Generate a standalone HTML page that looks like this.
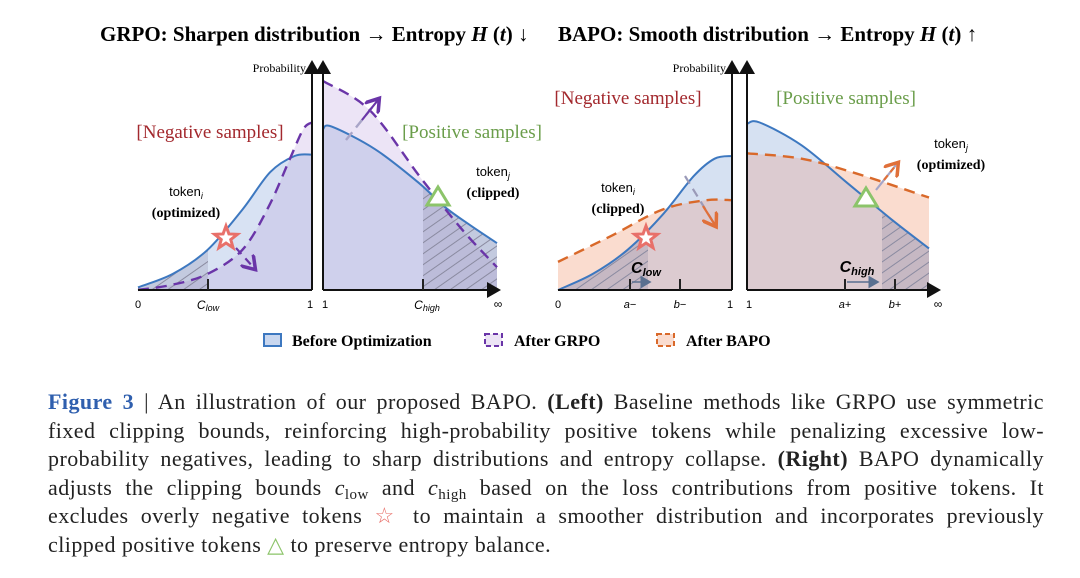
<!DOCTYPE html>
<html><head><meta charset="utf-8">
<style>
body{margin:0;background:#fff;width:1080px;height:578px;overflow:hidden;font-family:"Liberation Serif",serif;}
#fig{position:absolute;left:0;top:0}
.cap{position:absolute;left:48px;width:996px;font-size:22px;letter-spacing:0.45px;color:#222;line-height:28.5px;top:388px}
.ln{display:block;text-align:justify;text-align-last:justify;white-space:nowrap;height:28.5px}
.ln.last{text-align-last:left}
.blue{color:#2f5fae}
sub{font-size:15px;vertical-align:-4px;line-height:0}
</style></head><body>
<svg id="fig" width="1080" height="380">
<defs>
<pattern id="hatch" width="9" height="9" patternUnits="userSpaceOnUse" patternTransform="rotate(-35)">
<rect width="9" height="9" fill="rgba(120,120,150,0.22)"/><line x1="0" y1="0" x2="9" y2="0" stroke="#8a8aa0" stroke-width="2"/></pattern>
<marker id="arP" markerWidth="8" markerHeight="8" refX="5" refY="4" orient="auto"><path d="M0,0 L6,4 L0,8" fill="none" stroke="#6a35a8" stroke-width="1.6"/></marker>
<marker id="arO" markerWidth="8" markerHeight="8" refX="5" refY="4" orient="auto"><path d="M0,0 L6,4 L0,8" fill="none" stroke="#e0703a" stroke-width="1.6"/></marker>
<marker id="arA" markerWidth="8" markerHeight="8" refX="6" refY="4" orient="auto"><path d="M0,0 L7,4 L0,8 z" fill="#111"/></marker>
<marker id="arG" markerWidth="8" markerHeight="8" refX="6" refY="4" orient="auto"><path d="M0,0 L7,4 L0,8 z" fill="#5a7090"/></marker>
</defs>
<g id="plot"></g>
<text x="100" y="41" font-size="21" font-weight="bold" font-family="Liberation Serif">GRPO: Sharpen distribution → Entropy <tspan font-style="italic">H</tspan> (<tspan font-style="italic">t</tspan>) ↓</text>
<text x="558" y="41" font-size="21" font-weight="bold" font-family="Liberation Serif">BAPO: Smooth distribution → Entropy <tspan font-style="italic">H</tspan> (<tspan font-style="italic">t</tspan>) ↑</text>
</svg>
<div class="cap">
<span class="ln"><b class="blue">Figure 3</b> | An illustration of our proposed BAPO. <b>(Left)</b> Baseline methods like GRPO use symmetric</span>
<span class="ln">fixed clipping bounds, reinforcing high-probability positive tokens while penalizing excessive low-</span>
<span class="ln">probability negatives, leading to sharp distributions and entropy collapse. <b>(Right)</b> BAPO dynamically</span>
<span class="ln">adjusts the clipping bounds <i>c</i><sub>low</sub> and <i>c</i><sub>high</sub> based on the loss contributions from positive tokens. It</span>
<span class="ln">excludes overly negative tokens <span style="color:#e8706a">☆</span> to maintain a smoother distribution and incorporates previously</span>
<span class="ln last">clipped positive tokens <span style="color:#8cc46a">△</span> to preserve entropy balance.</span>
</div>
<script>
// curve data: [x fraction along axis, probability height]
const gNegBlueX=[0,0.2,0.4,0.6,0.76,0.9,1];
const gNegBlueY=[0.02,0.12,0.3,0.6,0.88,1.0,1.01];
const gNegPurX=[0,0.2,0.4,0.6,0.75,0.87,0.95,1];
const gNegPurY=[0,0.04,0.12,0.3,0.62,0.97,1.2,1.25];
const gPosBlueX=[0,0.05,0.3,0.55,0.7,0.85,1];
const gPosBlueY=[1.2,1.22,1.05,0.8,0.62,0.48,0.35];
const gPosPurX=[0,0.27,0.56,0.8,1];
const gPosPurY=[1.56,1.34,0.84,0.45,0.17];
const bNegBlueX=[0,0.2,0.4,0.6,0.78,0.9,1];
const bNegBlueY=[0,0.12,0.3,0.56,0.85,0.98,1.0];
const bNegOrX=[0,0.3,0.6,0.85,1];
const bNegOrY=[0.21,0.4,0.6,0.67,0.67];
const bPosBlueX=[0,0.07,0.3,0.55,0.8,1];
const bPosBlueY=[1.24,1.25,1.08,0.8,0.52,0.31];
const bPosOrX=[0,0.3,0.6,1];
const bPosOrY=[1.02,0.98,0.87,0.69];
const NS="http://www.w3.org/2000/svg";
const root=document.getElementById('plot');
const Y0=290, H=134;
function el(t,a,p){const e=document.createElementNS(NS,t);for(const k in a)e.setAttribute(k,a[k]);(p||root).appendChild(e);return e;}
function pts(x0,x1,xs,ys){return xs.map((f,i)=>[x0+f*(x1-x0),Y0-ys[i]*H]);}
function smooth(p){let d=`M${p[0][0]},${p[0][1]}`;for(let i=0;i<p.length-1;i++){const a=p[i-1]||p[i],b=p[i],c=p[i+1],e=p[i+2]||c;d+=` C${b[0]+(c[0]-a[0])/6},${b[1]+(c[1]-a[1])/6} ${c[0]-(e[0]-b[0])/6},${c[1]-(e[1]-b[1])/6} ${c[0]},${c[1]}`;}return d;}
function area(p){return smooth(p)+` L${p[p.length-1][0]},${Y0} L${p[0][0]},${Y0} Z`;}
function panel(x0,x1,bx,by,ox,oy,fillB,fillO,fillBoth,strokeO,name,hx0,hx1){
 const pb=pts(x0,x1,bx,by),po=pts(x0,x1,ox,oy);
 let a=el('path',{d:area(po),fill:fillO});
 
 a=el('path',{d:area(pb),fill:fillB});
 
 const oid='o'+name;const oc=el('clipPath',{id:oid});el('path',{d:area(po)},oc);
 a=el('path',{d:area(pb),fill:fillBoth,'clip-path':`url(#${oid})`});
 
 const cid='c'+name;const cp=el('clipPath',{id:cid});el('path',{d:area(pb)},cp);
 a=el('rect',{x:hx0,y:40,width:hx1-hx0,height:Y0-40,fill:'url(#hatch)','clip-path':`url(#${cid})`});
 
 a=el('path',{d:smooth(pb),fill:'none',stroke:'#3d78c0','stroke-width':2});
 
 a=el('path',{d:smooth(po),fill:'none',stroke:strokeO,'stroke-width':2.4,'stroke-dasharray':'11 7'});
 
}
panel(138,312,gNegBlueX,gNegBlueY,gNegPurX,gNegPurY,'#d8e2f3','#ece4f6','#cfd0ec','#6a35a8','grpo-neg',138,208);
panel(323,497,gPosBlueX,gPosBlueY,gPosPurX,gPosPurY,'#d8e2f3','#ece4f6','#cfd0ec','#6a35a8','grpo-pos',423,497);
panel(558,732,bNegBlueX,bNegBlueY,bNegOrX,bNegOrY,'#d6e1f2','#fadccf','#dccbd0','#d9692a','bapo-neg',558,648);
panel(747,929,bPosBlueX,bPosBlueY,bPosOrX,bPosOrY,'#d6e1f2','#fadccf','#dccbd0','#d9692a','bapo-pos',882,929);
function T(x,y,s,opt){const t=el('text',Object.assign({x:x,y:y,'font-family':'Liberation Serif','font-size':13},opt||{}));t.innerHTML=s;return t;}
function axes(xl0,xl1,xr0,xr1,name){
 let a=el('line',{x1:xl0,y1:Y0,x2:xl1,y2:Y0,stroke:'#111','stroke-width':2});
 a=el('line',{x1:xl1,y1:Y0,x2:xl1,y2:62,stroke:'#111','stroke-width':2,'marker-end':'url(#arA)'});
 
 a=el('line',{x1:xr0,y1:Y0,x2:xr0,y2:62,stroke:'#111','stroke-width':2,'marker-end':'url(#arA)'});
 a=el('line',{x1:xr0,y1:Y0,x2:xr1,y2:Y0,stroke:'#111','stroke-width':2,'marker-end':'url(#arA)'});
 
 T(xl1-6,72,'Probability',{'text-anchor':'end','font-size':12});
 T(xl0,308,'0',{'font-family':'Liberation Sans','font-size':11,'text-anchor':'middle'});
 T(xl1-2,308,'1',{'font-family':'Liberation Sans','font-size':11,'text-anchor':'middle'});
 T(xr0+2,308,'1',{'font-family':'Liberation Sans','font-size':11,'text-anchor':'middle'});
 T(xr1-1,308,'∞',{'font-family':'Liberation Sans','font-size':12,'text-anchor':'middle'});
}
axes(138,312,323,499,'grpo');axes(558,732,747,939,'bapo');
function tick(x){el('line',{x1:x,y1:Y0,x2:x,y2:Y0-11,stroke:'#222','stroke-width':2});}
tick(208);tick(423);tick(630);tick(680);tick(845);tick(895);
T(208,309,'<tspan font-style="italic">C</tspan><tspan font-size="9" font-style="italic" dy="2">low</tspan>',{'font-family':'Liberation Sans','font-size':12,'text-anchor':'middle'});
T(427,309,'<tspan font-style="italic">C</tspan><tspan font-size="9" font-style="italic" dy="2">high</tspan>',{'font-family':'Liberation Sans','font-size':12,'text-anchor':'middle'});
T(630,308,'<tspan font-style="italic">a</tspan>−',{'font-family':'Liberation Sans','font-size':11,'text-anchor':'middle'});
T(680,308,'<tspan font-style="italic">b</tspan>−',{'font-family':'Liberation Sans','font-size':11,'text-anchor':'middle'});
T(845,308,'<tspan font-style="italic">a</tspan>+',{'font-family':'Liberation Sans','font-size':11,'text-anchor':'middle'});
T(895,308,'<tspan font-style="italic">b</tspan>+',{'font-family':'Liberation Sans','font-size':11,'text-anchor':'middle'});
T(646,273,'<tspan font-style="italic">C</tspan><tspan font-size="11" dy="3" font-style="italic">low</tspan>',{'font-family':'Liberation Sans','font-size':16,'font-weight':'bold','text-anchor':'middle'});
T(857,272,'<tspan font-style="italic">C</tspan><tspan font-size="11" dy="3" font-style="italic">high</tspan>',{'font-family':'Liberation Sans','font-size':16,'font-weight':'bold','text-anchor':'middle'});
el('line',{x1:632,y1:282,x2:650,y2:282,stroke:'#5a7090','stroke-width':1.6,'marker-end':'url(#arG)'});
el('line',{x1:847,y1:282,x2:878,y2:282,stroke:'#5a7090','stroke-width':1.6,'marker-end':'url(#arG)'});
T(210,138,'[Negative samples]',{'font-size':19,fill:'#a3292e','text-anchor':'middle'});
T(472,138,'[Positive samples]',{'font-size':19,fill:'#6a9d4a','text-anchor':'middle'});
T(628,104,'[Negative samples]',{'font-size':19,fill:'#a3292e','text-anchor':'middle'});
T(846,104,'[Positive samples]',{'font-size':19,fill:'#6a9d4a','text-anchor':'middle'});
function tok(x,y,sub,lab){T(x,y,'token<tspan font-size="9" font-style="italic" dy="3">'+sub+'</tspan>',{'font-family':'Liberation Sans','font-size':13,'text-anchor':'middle'});T(x,y+21,lab,{'font-size':14,'font-weight':'bold','text-anchor':'middle'});}
tok(186,196,'i','(optimized)');tok(493,176,'j','(clipped)');tok(618,192,'i','(clipped)');tok(951,148,'j','(optimized)');
el('line',{x1:346,y1:140,x2:378,y2:100,stroke:'#a9a5c8','stroke-width':2.4,'stroke-dasharray':'10 6'});
el('line',{x1:362,y1:120,x2:378,y2:100,stroke:'#6a35a8','stroke-width':2.2,'marker-end':'url(#arP)'});
el('line',{x1:236,y1:248,x2:254,y2:268,stroke:'#6a35a8','stroke-width':2.2,'stroke-dasharray':'8 6','marker-end':'url(#arP)'});
el('line',{x1:685,y1:176,x2:715,y2:225,stroke:'#9a9ab8','stroke-width':2.2,'stroke-dasharray':'9 6'});
el('line',{x1:703,y1:206,x2:715,y2:225,stroke:'#e0703a','stroke-width':2.2,'marker-end':'url(#arO)'});
el('line',{x1:876,y1:190,x2:896,y2:165,stroke:'#a5a5c8','stroke-width':2.2});
el('line',{x1:884,y1:180,x2:897,y2:164,stroke:'#e0703a','stroke-width':2.2,'stroke-dasharray':'6 4','marker-end':'url(#arO)'});
function star(cx,cy,name){let d='';for(let i=0;i<10;i++){const r=i%2?5:12,a=-Math.PI/2+i*Math.PI/5;d+=(i?'L':'M')+(cx+r*Math.cos(a))+','+(cy+r*Math.sin(a));}const s=el('path',{d:d+'Z',fill:'#fff',stroke:'#e8706a','stroke-width':3});}
function tri(cx,cy,name){const s=el('path',{d:`M${cx},${cy-10} L${cx+11},${cy+8} L${cx-11},${cy+8}Z`,fill:'#fff',stroke:'#8cc46a','stroke-width':3});}
star(226,238,'grpo-token-i-star');star(646,238,'bapo-token-i-star');tri(438,197,'grpo-token-j-triangle');tri(866,198,'bapo-token-j-triangle');
const lg=el('g',{});
el('rect',{x:264,y:334,width:17,height:12,fill:'#c9d7ef',stroke:'#3d78c0','stroke-width':2},lg);
T(292,346,'Before Optimization',{'font-size':16,'font-weight':'bold'});
el('rect',{x:485,y:334,width:17,height:12,fill:'#ece4f5',stroke:'#6a35a8','stroke-width':2,'stroke-dasharray':'5 3'},lg);
T(514,346,'After GRPO',{'font-size':16,'font-weight':'bold'});
el('rect',{x:657,y:334,width:17,height:12,fill:'#fadccf',stroke:'#d9692a','stroke-width':2,'stroke-dasharray':'5 3'},lg);
T(686,346,'After BAPO',{'font-size':16,'font-weight':'bold'});
</script>
</body></html>
